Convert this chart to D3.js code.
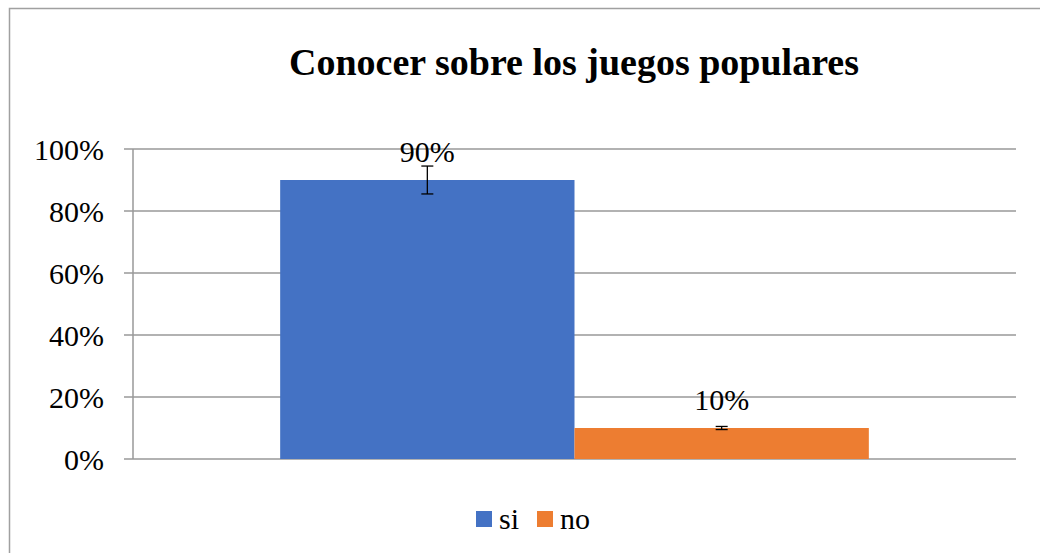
<!DOCTYPE html>
<html>
<head>
<meta charset="utf-8">
<script src="https://cdn.jsdelivr.net/npm/d3@7"></script>
<style>
  body { margin: 0; background: #fff; }
  svg text { font-family: "Liberation Serif", "Times New Roman", serif; fill: #000; }
</style>
</head>
<body>
<svg id="chart" width="1040" height="553"></svg>
<script>
var title = "Conocer sobre los juegos populares";
var series = ["si", "no"];
var values = [0.90, 0.10];
var errors = [0.045, 0.005];
var colors = ["#4472C4", "#ED7D31"];
var ticks = [0, 0.2, 0.4, 0.6, 0.8, 1.0];

var svg = d3.select("#chart");

// chart border (runs off the right and bottom edge)
svg.append("rect")
	.attr("x", 9.5).attr("y", 8.5)
	.attr("width", 1060).attr("height", 580)
	.attr("fill", "#fff")
	.attr("stroke", "#a0a0a0")
	.attr("stroke-width", 1.5);

// plot area (note: "top" is taken by window.top)
var plotLeft = 133, plotRight = 1016, plotTop = 149, plotBottom = 459;

var y = d3.scaleLinear().domain([0, 1]).range([plotBottom, plotTop]);
var x = d3.scaleBand().domain(series).range([plotLeft, plotRight]).paddingInner(0).paddingOuter(0.5);

// gridlines
svg.append("g").selectAll("line")
	.data(ticks)
	.enter().append("line")
	.attr("x1", plotLeft - 9).attr("x2", plotRight)
	.attr("y1", function(d){ return y(d); })
	.attr("y2", function(d){ return y(d); })
	.attr("stroke", "#989898")
	.attr("stroke-width", 1.5);

// y axis
var axis = svg.append("g")
	.attr("transform", "translate(" + plotLeft + ",0)")
	.call(d3.axisLeft(y).tickValues(ticks).tickFormat(d3.format(".0%")).tickSize(9).tickPadding(20));
axis.select(".domain").remove();
axis.selectAll(".tick line").remove();
axis.selectAll("text")
	.style("font-size", "30px")
	.style("font-family", "'Liberation Serif', serif")
	.attr("dy", "0.36em");

svg.append("line")
	.attr("x1", plotLeft).attr("x2", plotLeft)
	.attr("y1", plotTop).attr("y2", plotBottom)
	.attr("stroke", "#989898").attr("stroke-width", 1.5);

// bars
svg.append("g").selectAll("rect")
	.data(values)
	.enter().append("rect")
	.attr("x", function(d, i){ return x(series[i]); })
	.attr("width", x.bandwidth())
	.attr("y", function(d){ return y(d); })
	.attr("height", function(d){ return y(0) - y(d); })
	.attr("fill", function(d, i){ return colors[i]; });

// error bars
var eb = svg.append("g").selectAll("g")
	.data(values)
	.enter().append("g")
	.attr("stroke", "#000").attr("stroke-width", 1.3);
eb.each(function(d, i){
	var g = d3.select(this);
	var cx = x(series[i]) + x.bandwidth() / 2;
	var y1 = y(d + errors[i]), y2 = y(d - errors[i]);
	g.append("line").attr("x1", cx).attr("x2", cx).attr("y1", y1).attr("y2", y2);
	g.append("line").attr("x1", cx - 6).attr("x2", cx + 6).attr("y1", y1).attr("y2", y1);
	g.append("line").attr("x1", cx - 6).attr("x2", cx + 6).attr("y1", y2).attr("y2", y2);
});

// data labels
svg.append("g").selectAll("text")
	.data(values)
	.enter().append("text")
	.attr("x", function(d, i){ return x(series[i]) + x.bandwidth() / 2; })
	.attr("y", function(d){ return y(d) - 18; })
	.attr("text-anchor", "middle")
	.style("font-size", "30px")
	.text(function(d){ return d3.format(".0%")(d); });

// title
svg.append("text")
	.attr("x", 574)
	.attr("y", 75)
	.attr("text-anchor", "middle")
	.style("font-size", "38px")
	.style("font-weight", "bold")
	.text(title);

// legend
var legendX = [476, 537];
var legend = svg.append("g").selectAll("g")
	.data(series)
	.enter().append("g")
	.attr("transform", function(d, i){ return "translate(" + legendX[i] + ",511)"; });
legend.append("rect")
	.attr("width", 16).attr("height", 16)
	.attr("fill", function(d, i){ return colors[i]; });
legend.append("text")
	.attr("x", 23).attr("y", 18)
	.style("font-size", "30px")
	.text(function(d){ return d; });
</script>
</body>
</html>
